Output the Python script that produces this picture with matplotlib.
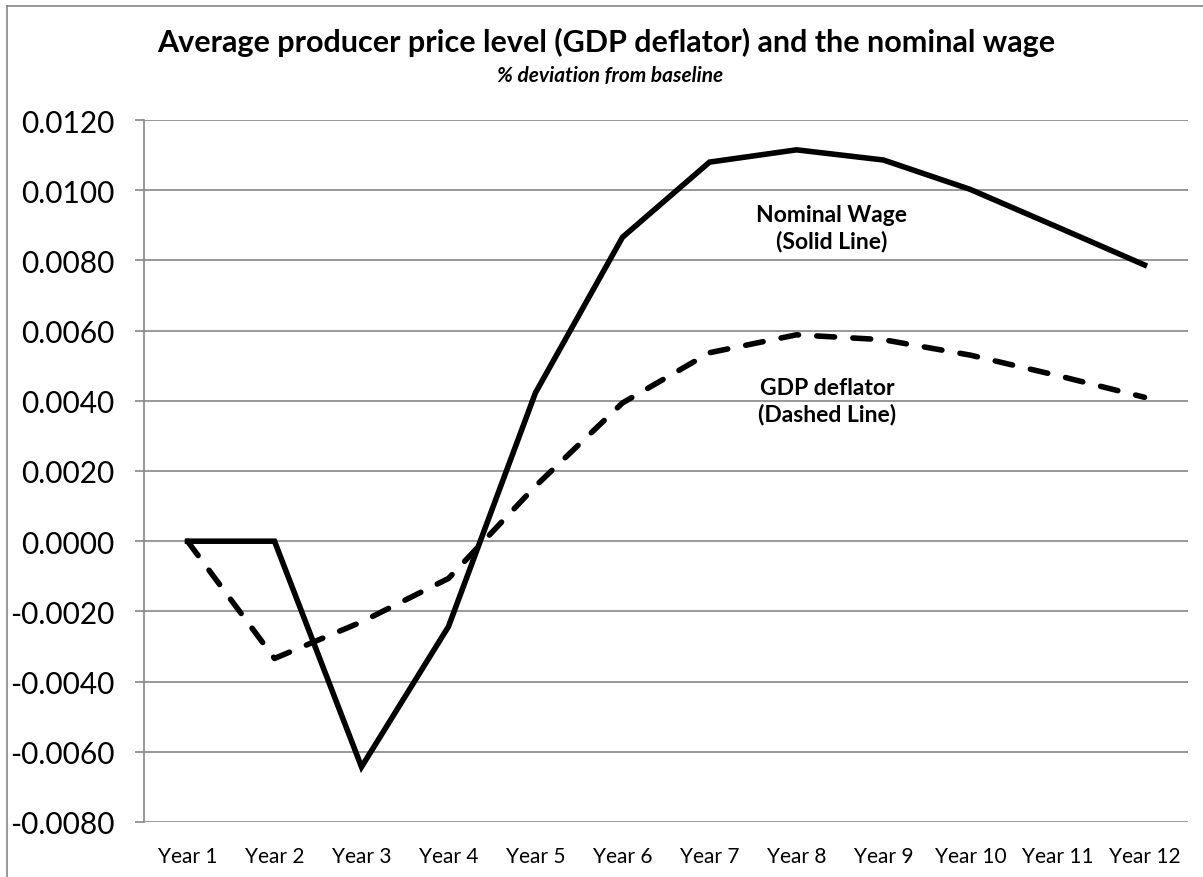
import numpy as np
import matplotlib
matplotlib.use("Agg")
import matplotlib.pyplot as plt
from matplotlib.ticker import FuncFormatter, MultipleLocator
from matplotlib.lines import Line2D

plt.rcParams['font.family'] = ['Lato', 'DejaVu Sans']
plt.rcParams['axes.unicode_minus'] = False

# data
years = ['Year 1', 'Year 2', 'Year 3', 'Year 4', 'Year 5', 'Year 6',
         'Year 7', 'Year 8', 'Year 9', 'Year 10', 'Year 11', 'Year 12']
nominal_wage = [0.0, 0.0, -0.00643, -0.00243, 0.00423, 0.00866,
                0.0108, 0.01115, 0.01086, 0.01002, 0.00895, 0.00787]
gdp_deflator = [0.0, -0.00334, -0.0023, -0.00106, 0.00157, 0.00394,
                0.00537, 0.00588, 0.00574, 0.0053, 0.00472, 0.0041]

grid_col = '#868686'

fig = plt.figure(figsize=(12.03, 8.78), dpi=100)
ax = fig.add_axes([144 / 1203, 1 - 823 / 878, (1188 - 144) / 1203, (823 - 121) / 878])

x = np.arange(len(years))
ax.plot(x, nominal_wage, color='black', lw=4, solid_joinstyle='miter', zorder=3)
ax.plot(x, gdp_deflator, color='black', lw=4, dashes=(3.2, 3.3),
        dash_capstyle='round', zorder=3)

ax.set_xlim(-0.5, len(years) - 0.5)
ax.set_ylim(-0.008, 0.012)
ax.yaxis.set_major_locator(MultipleLocator(0.002))
ax.yaxis.set_major_formatter(FuncFormatter(lambda v, p: '%.4f' % v))
ax.set_xticks(x)
ax.set_xticklabels(years)

ax.grid(axis='y', color=grid_col, lw=1.2)
ax.set_axisbelow(True)
for s in ['top', 'right', 'bottom']:
    ax.spines[s].set_visible(False)
ax.spines['left'].set_color(grid_col)
ax.spines['left'].set_linewidth(1.2)

ax.tick_params(axis='y', length=6.5, width=1.2, color=grid_col, pad=15,
               labelsize=21.5, labelcolor='black')
ax.tick_params(axis='x', length=0, pad=17, labelsize=15, labelcolor='black')

fig.text(0.504, 1 - 42 / 878, 'Average producer price level (GDP deflator) and the nominal wage',
         ha='center', va='center', fontsize=22, fontweight='bold')
fig.text(0.507, 1 - 76 / 878, '% deviation from baseline',
         ha='center', va='center', fontsize=15, fontweight='bold', style='italic')

ax.text(7.4, 0.00893, 'Nominal Wage\n(Solid Line)', ha='center', va='center',
        fontsize=16.5, fontweight='bold', linespacing=1.3)
ax.text(7.35, 0.00400, 'GDP deflator\n(Dashed Line)', ha='center', va='center',
        fontsize=16.5, fontweight='bold', linespacing=1.3)

# chart area border (left and top edges)
fig.add_artist(Line2D([7 / 1203, 7 / 1203], [0, 1 - 7 / 878], color=grid_col, lw=1.2,
                      transform=fig.transFigure))
fig.add_artist(Line2D([7 / 1203, 1], [1 - 7 / 878, 1 - 7 / 878], color=grid_col, lw=1.2,
                      transform=fig.transFigure))

fig.savefig('out.png', dpi=100)
